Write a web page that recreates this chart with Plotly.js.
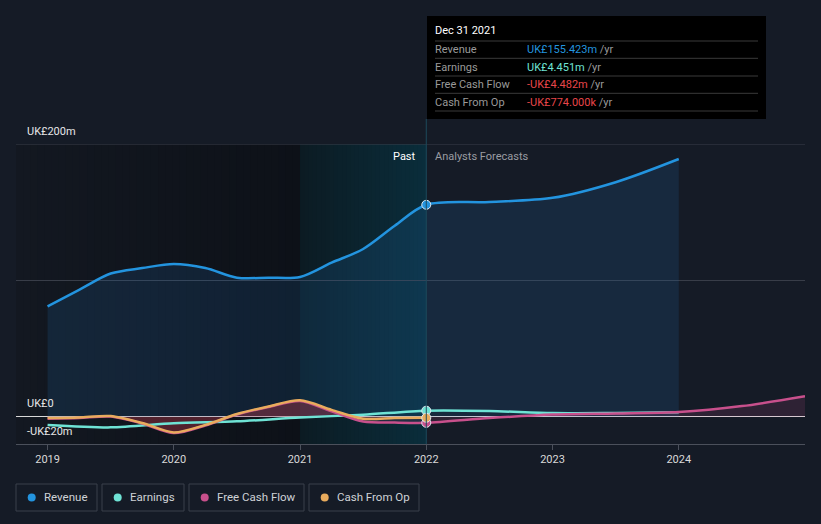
<!DOCTYPE html>
<html>
<head>
<meta charset="utf-8">
<script src="https://cdn.plot.ly/plotly-3.0.1.min.js"></script>
<style>
  html, body { margin: 0; padding: 0; background: #151b26; }
  #chart { width: 821px; height: 524px; }
</style>
</head>
<body>
<div id="chart"></div>
<script>
// ---------- data ----------
const seriesNames = ['Revenue', 'Earnings', 'Free Cash Flow', 'Cash From Op'];

const revenueX = [2019, 2019.25, 2019.5, 2019.75, 2020, 2020.25, 2020.5, 2020.75, 2021, 2021.25, 2021.5, 2021.75, 2022, 2022.5, 2023, 2023.5, 2024];
const revenue  = [81, 93, 105, 109, 112, 109, 102, 102, 102.5, 113, 123, 140, 155.423, 157.5, 160.5, 172, 189];

const earningsX = [2019, 2019.5, 2020, 2020.5, 2021, 2021.5, 2022, 2022.5, 2023, 2023.5, 2024];
const earnings  = [-6, -7.8, -4.8, -3.4, -0.6, 1.5, 4.451, 4.2, 2.7, 2.8, 3.2];

const fcfX = [2019, 2019.25, 2019.5, 2019.75, 2020, 2020.25, 2020.5, 2020.75, 2021, 2021.25, 2021.5, 2021.75, 2022, 2022.5, 2023, 2023.5, 2024, 2024.5, 2025];
const fcf  = [-1.4, -0.9, 0.1, -5, -12, -6.4, 1.6, 7.1, 11.6, 4, -3.5, -4.3, -4.482, -1.0, 1.6, 2.4, 3.4, 7.8, 15];

const cfoX = [2019, 2019.25, 2019.5, 2019.75, 2020, 2020.25, 2020.5, 2020.75, 2021, 2021.25, 2021.5, 2021.75, 2022];
const cfo  = [-1, -0.5, 0.5, -4.6, -11.5, -6, 2, 7.5, 12, 5, -1.5, -1, -0.774];

const xTickVals = [2019, 2020, 2021, 2022, 2023, 2024];
const xTickText = ['2019', '2020', '2021', '2022', '2023', '2024'];
const yLabelVals = [200, 0, -20];
const yLabelText = ['UK£200m', 'UK£0', '-UK£20m'];

const tipDate = 'Dec 31 2021';
const tipValues = ['UK£155.423m', 'UK£4.451m', '-UK£4.482m', '-UK£774.000k'];

// ---------- styles ----------
const colors = ['#2394df', '#6fe3d5', '#c8508c', '#e8ab5d'];
const tipColors = ['#2394df', '#6fe3d5', '#e8464a', '#e8464a'];
const font = 'Roboto, "Open Sans", sans-serif';

// pixel -> paper helpers (plot area: x 16..805, y 144..444)
const px = x => (x - 16) / 789;
const py = y => (444 - y) / 300;

const traces = [
  { x: revenueX, y: revenue, type: 'scatter', mode: 'lines', fill: 'tozeroy',
    fillcolor: 'rgba(35,110,185,0.17)', line: { color: colors[0], width: 2.5, shape: 'spline', smoothing: 0.9 } },
  { x: fcfX, y: fcf, type: 'scatter', mode: 'lines', fill: 'tozeroy',
    fillcolor: 'rgba(200,80,140,0.14)', line: { color: 'rgba(0,0,0,0)', width: 0, shape: 'spline', smoothing: 0.8 } },
  { x: cfoX, y: cfo, type: 'scatter', mode: 'lines', fill: 'tozeroy',
    fillcolor: 'rgba(190,50,55,0.28)', line: { color: 'rgba(0,0,0,0)', width: 0, shape: 'spline', smoothing: 0.8 } },
  { x: earningsX, y: earnings, type: 'scatter', mode: 'lines',
    line: { color: colors[1], width: 2.5, shape: 'spline', smoothing: 0.8 } },
  { x: fcfX, y: fcf, type: 'scatter', mode: 'lines',
    line: { color: colors[2], width: 2.5, shape: 'spline', smoothing: 0.8 } },
  { x: cfoX, y: cfo, type: 'scatter', mode: 'lines',
    line: { color: colors[3], width: 2.5, shape: 'spline', smoothing: 0.8 } }
];

// markers at the last reported date
const lastVals = [revenue[revenueX.indexOf(2022)], earnings[earningsX.indexOf(2022)], fcf[fcfX.indexOf(2022)], cfo[cfoX.indexOf(2022)]];
lastVals.forEach((v, i) => {
  traces.push({ x: [2022], y: [v], type: 'scatter', mode: 'markers',
    marker: { color: colors[i], size: 9, line: { color: '#dfe8f0', width: 1 } } });
});

// ---------- shapes ----------
const shapes = [];
const mix = (c0, c1, t) => c0.map((v, k) => Math.round(v + (c1[k] - v) * t));
function gradient(xa, xb, c0, c1, n) {
  for (let i = 0; i < n; i++) {
    const a = xa + (xb - xa) * i / n;
    const b = xa + (xb - xa) * (i + 1) / n;
    const c = mix(c0, c1, (i + 0.5) / n);
    shapes.push({ type: 'rect', xref: 'x', yref: 'paper', x0: a, x1: i === n - 1 ? b : b + (xb - xa) / n * 0.6,
      y0: 0, y1: 1, layer: 'below', line: { width: 0 }, fillcolor: `rgb(${c[0]},${c[1]},${c[2]})` });
  }
}
// dark gradient over the past, teal highlight for the last year
gradient(2018.75, 2021, [19, 24, 33], [13, 17, 24], 40);
gradient(2021, 2022, [12, 27, 35], [10, 45, 59], 30);
// top gridline at the range edge
shapes.push({ type: 'line', xref: 'paper', yref: 'y', x0: 0, x1: 1, y0: 200, y1: 200,
  line: { color: '#3a3f4a', width: 1 } });
// vertical marker line
shapes.push({ type: 'line', xref: 'x', yref: 'paper', x0: 2022, x1: 2022, y0: 0, y1: py(119),
  line: { color: '#1d4a5c', width: 1 } });
// tooltip box
shapes.push({ type: 'rect', xref: 'paper', yref: 'paper', x0: px(427), x1: px(766), y0: py(119), y1: py(16),
  fillcolor: '#000000', line: { width: 0 } });
[41, 58.3, 76, 93.3, 111].forEach(y => {
  shapes.push({ type: 'line', xref: 'paper', yref: 'paper', x0: px(435), x1: px(758), y0: py(y), y1: py(y),
    line: { color: '#3a3a3a', width: 1 } });
});
// legend boxes
const legBoxes = [[16, 97], [102, 184], [189, 304], [309, 419]];
legBoxes.forEach(([a, b], i) => {
  shapes.push({ type: 'rect', xref: 'paper', yref: 'paper', x0: px(a), x1: px(b), y0: py(511), y1: py(484),
    line: { color: '#3b404b', width: 1 }, fillcolor: 'rgba(0,0,0,0)' });
  shapes.push({ type: 'circle', xref: 'paper', yref: 'paper', x0: px(a + 11.7), x1: px(a + 19.7), y0: py(501.5), y1: py(493.5),
    line: { width: 0 }, fillcolor: colors[i] });
});

// ---------- annotations ----------
const annotations = [];
yLabelVals.forEach((v, i) => {
  annotations.push({ xref: 'paper', yref: 'y', x: px(25), y: v, xanchor: 'left', yanchor: 'middle', yshift: 13,
    text: yLabelText[i], showarrow: false, font: { family: font, size: 11, color: '#e6e6e6' } });
});
annotations.push({ xref: 'x', yref: 'paper', x: 2022, y: py(156), xanchor: 'right', yanchor: 'middle', xshift: -8,
  text: 'Past', showarrow: false, font: { family: font, size: 11, color: '#ffffff' } });
annotations.push({ xref: 'x', yref: 'paper', x: 2022, y: py(156), xanchor: 'left', yanchor: 'middle', xshift: 7,
  text: 'Analysts Forecasts', showarrow: false, font: { family: font, size: 11, color: '#9a9ca2' } });
// tooltip text
annotations.push({ xref: 'paper', yref: 'paper', x: px(433), y: py(31), xanchor: 'left', yanchor: 'middle',
  text: tipDate, showarrow: false, font: { family: font, size: 11, color: '#ffffff' } });
const rowY = [49.5, 67, 84.5, 102];
seriesNames.forEach((n, i) => {
  annotations.push({ xref: 'paper', yref: 'paper', x: px(433), y: py(rowY[i]), xanchor: 'left', yanchor: 'middle',
    text: n, showarrow: false, font: { family: font, size: 11, color: '#9a9a9a' } });
  annotations.push({ xref: 'paper', yref: 'paper', x: px(525), y: py(rowY[i]), xanchor: 'left', yanchor: 'middle',
    text: `<span style="color:${tipColors[i]}">${tipValues[i]}</span> /yr`, showarrow: false,
    font: { family: font, size: 11, color: '#9a9a9a' } });
});
// legend labels
legBoxes.forEach(([a], i) => {
  annotations.push({ xref: 'paper', yref: 'paper', x: px(a + 26), y: py(497), xanchor: 'left', yanchor: 'middle',
    text: seriesNames[i], showarrow: false, font: { family: font, size: 11.5, color: '#cfd2d6' } });
});

const layout = {
  width: 821, height: 524,
  margin: { l: 16, r: 16, t: 144, b: 80 },
  paper_bgcolor: '#151b26', plot_bgcolor: '#151b26',
  showlegend: false,
  hovermode: false,
  font: { family: font, color: '#d9d9d9', size: 11 },
  xaxis: {
    range: [2018.75, 2025], tickvals: xTickVals, ticktext: xTickText,
    showgrid: false, zeroline: false, showline: true, linecolor: '#4b505b', linewidth: 1,
    ticks: 'outside', ticklen: 5, tickcolor: '#4b505b', tickfont: { family: font, size: 11, color: '#d9d9d9' }
  },
  yaxis: {
    range: [-20, 200], tickvals: [100, 200], showticklabels: false,
    showgrid: true, gridcolor: '#383d48', gridwidth: 1,
    zeroline: true, zerolinecolor: '#d8d8d8', zerolinewidth: 1.5, showline: false, ticks: ''
  },
  shapes: shapes,
  annotations: annotations
};

Plotly.newPlot('chart', traces, layout, { staticPlot: true, displayModeBar: false });
</script>
</body>
</html>
